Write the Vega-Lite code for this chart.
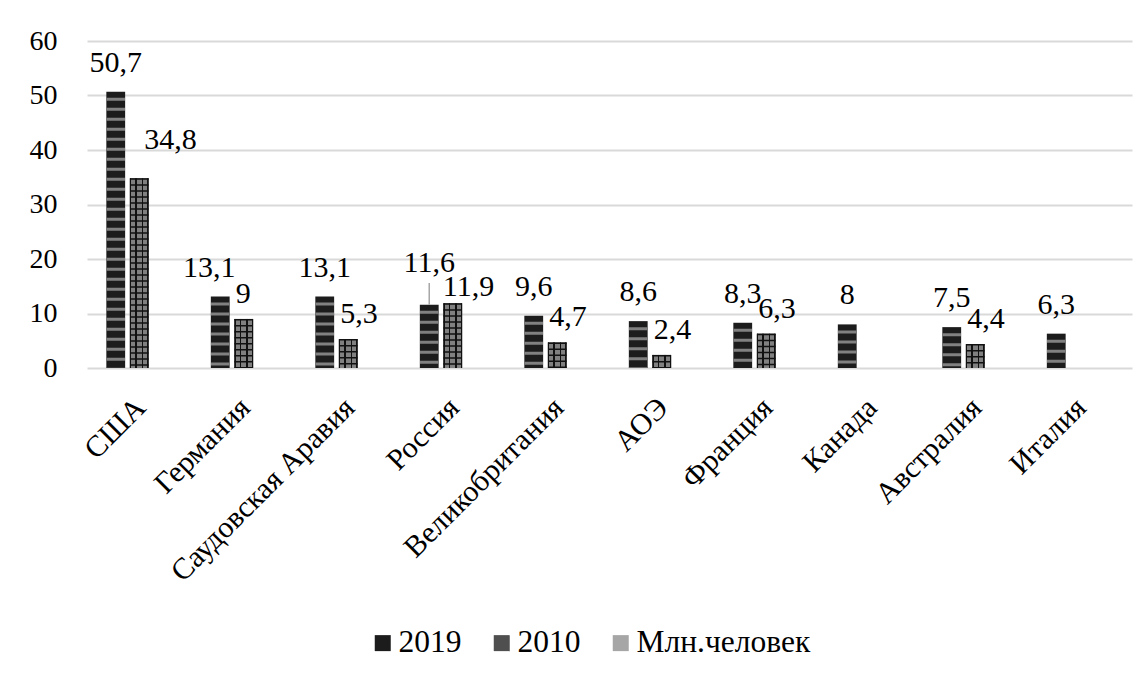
{
  "$schema": "https://vega.github.io/schema/vega-lite/v6.json",
  "width": 1045,
  "height": 327,
  "autosize": "none",
  "padding": {"left": 87, "top": 41, "right": 15, "bottom": 306},
  "background": "white",
  "config": {
    "view": {"stroke": null},
    "font": "Liberation Serif, Times New Roman, serif",
    "locale": {"number": {"decimal": ",", "thousands": " ", "grouping": [3], "currency": ["", ""]}}
  },
  "data": {
    "values": [
      {"country": "США", "series": "2019", "value": 50.7},
      {"country": "США", "series": "2010", "value": 34.8},
      {"country": "Германия", "series": "2019", "value": 13.1},
      {"country": "Германия", "series": "2010", "value": 9},
      {"country": "Саудовская Аравия", "series": "2019", "value": 13.1},
      {"country": "Саудовская Аравия", "series": "2010", "value": 5.3},
      {"country": "Россия", "series": "2019", "value": 11.6},
      {"country": "Россия", "series": "2010", "value": 11.9},
      {"country": "Великобритания", "series": "2019", "value": 9.6},
      {"country": "Великобритания", "series": "2010", "value": 4.7},
      {"country": "АОЭ", "series": "2019", "value": 8.6},
      {"country": "АОЭ", "series": "2010", "value": 2.4},
      {"country": "Франция", "series": "2019", "value": 8.3},
      {"country": "Франция", "series": "2010", "value": 6.3},
      {"country": "Канада", "series": "2019", "value": 8},
      {"country": "Австралия", "series": "2019", "value": 7.5},
      {"country": "Австралия", "series": "2010", "value": 4.4},
      {"country": "Италия", "series": "2019", "value": 6.3}
    ]
  },
  "encoding": {
    "x": {
      "field": "country", "type": "nominal", "sort": null,
      "scale": {"paddingInner": 0.37, "paddingOuter": 0.185},
      "axis": {"title": null, "labelAngle": -45, "labelAlign": "right", "labelBaseline": "alphabetic", "labelFontSize": 30, "labelFont": "Liberation Serif, Times New Roman, serif", "labelColor": "black", "domain": false, "ticks": false, "tickSize": 0, "labelPadding": 41, "labelOffset": 8, "labelLimit": 0, "labelOverlap": false}
    },
    "xOffset": {
      "field": "series", "type": "nominal",
      "scale": {"domain": ["2019", "2010", "Млн.человек"], "paddingInner": 0.2, "paddingOuter": 0}
    },
    "y": {
      "field": "value", "type": "quantitative",
      "scale": {"domain": [0, 60]},
      "axis": {"title": null, "values": [0, 10, 20, 30, 40, 50, 60], "grid": true, "gridColor": "#d9d9d9", "gridWidth": 2, "domain": false, "ticks": false, "labelFontSize": 28, "labelFont": "Liberation Serif, Times New Roman, serif", "labelColor": "black", "labelPadding": 30}
    }
  },
  "layer": [
    {
      "mark": {"type": "bar"},
      "encoding": {
        "color": {
          "field": "series", "type": "nominal",
          "scale": {"domain": ["2019", "2010", "Млн.человек"], "range": ["#1c1c1c", "#4f4f4f", "#a6a6a6"]},
          "legend": {"title": null, "orient": "none", "legendX": 280, "legendY": 586, "direction": "horizontal", "symbolType": "square", "symbolSize": 256, "symbolStrokeWidth": 0, "labelFontSize": 31.5, "labelFont": "Liberation Serif, Times New Roman, serif", "labelColor": "black", "labelLimit": 0, "columnPadding": 24, "labelOffset": 0, "padding": 0}
        }
      }
    },
    {
      "transform": [{"filter": "datum.series == '2010'"}],
      "mark": {
        "type": "bar",
        "fill": {
          "gradient": "linear", "x1": 0, "y1": 0, "x2": 1, "y2": 0,
          "stops": [
            {"offset": 0, "color": "#111111"},
            {"offset": 0.07, "color": "#111111"},
            {"offset": 0.07, "color": "#808080"},
            {"offset": 0.30, "color": "#808080"},
            {"offset": 0.30, "color": "#111111"},
            {"offset": 0.37, "color": "#111111"},
            {"offset": 0.37, "color": "#808080"},
            {"offset": 0.63, "color": "#808080"},
            {"offset": 0.63, "color": "#111111"},
            {"offset": 0.70, "color": "#111111"},
            {"offset": 0.70, "color": "#808080"},
            {"offset": 0.93, "color": "#808080"},
            {"offset": 0.93, "color": "#111111"},
            {"offset": 1, "color": "#111111"}
          ]
        }
      }
    },
    {
      "transform": [{"filter": "datum.series == '2010'"}],
      "mark": {"type": "rule", "color": "#111111", "strokeWidth": 18.5, "strokeDash": [1.5, 4.5], "strokeCap": "butt"},
      "encoding": {"y2": {"datum": 0}}
    },
    {
      "transform": [{"filter": "datum.series == '2019'"}],
      "mark": {"type": "rule", "color": "#808080", "strokeWidth": 18.5, "strokeDash": [0, 6, 3, 1], "strokeCap": "butt"},
      "encoding": {"y2": {"datum": 0}}
    },
    {
      "transform": [{"filter": "datum.series == '2019' && datum.country == 'Россия'"}],
      "mark": {"type": "rule", "color": "#a6a6a6", "strokeWidth": 1.5},
      "encoding": {"y2": {"datum": 15.6}}
    },
    {
      "transform": [{"filter": "datum.series == '2019' && datum.country != 'Россия' && datum.country != 'Германия'"}],
      "mark": {"type": "text", "align": "center", "baseline": "alphabetic", "dy": -20, "fontSize": 30, "font": "Liberation Serif, Times New Roman, serif", "color": "black"},
      "encoding": {"text": {"field": "value", "type": "quantitative", "format": "~g"}}
    },
    {
      "transform": [{"filter": "datum.series == '2019' && datum.country == 'Германия'"}],
      "mark": {"type": "text", "align": "center", "baseline": "alphabetic", "dx": -11, "dy": -20, "fontSize": 30, "font": "Liberation Serif, Times New Roman, serif", "color": "black"},
      "encoding": {"text": {"field": "value", "type": "quantitative", "format": "~g"}}
    },
    {
      "transform": [{"filter": "datum.series == '2019' && datum.country == 'Россия'"}],
      "mark": {"type": "text", "align": "center", "baseline": "alphabetic", "dy": -33, "fontSize": 30, "font": "Liberation Serif, Times New Roman, serif", "color": "black"},
      "encoding": {"text": {"field": "value", "type": "quantitative", "format": "~g"}}
    },
    {
      "transform": [{"filter": "datum.series == '2010' && datum.country != 'США' && datum.country != 'Россия'"}],
      "mark": {"type": "text", "align": "left", "baseline": "alphabetic", "dx": -8, "dy": -16, "fontSize": 30, "font": "Liberation Serif, Times New Roman, serif", "color": "black"},
      "encoding": {"text": {"field": "value", "type": "quantitative", "format": "~g"}}
    },
    {
      "transform": [{"filter": "datum.series == '2010' && datum.country == 'Россия'"}],
      "mark": {"type": "text", "align": "left", "baseline": "alphabetic", "dx": -10, "dy": -7, "fontSize": 30, "font": "Liberation Serif, Times New Roman, serif", "color": "black"},
      "encoding": {"text": {"field": "value", "type": "quantitative", "format": "~g"}}
    },
    {
      "transform": [{"filter": "datum.series == '2010' && datum.country == 'США'"}],
      "mark": {"type": "text", "align": "left", "baseline": "alphabetic", "dx": 5, "dy": -29, "fontSize": 30, "font": "Liberation Serif, Times New Roman, serif", "color": "black"},
      "encoding": {"text": {"field": "value", "type": "quantitative", "format": "~g"}}
    }
  ]
}
